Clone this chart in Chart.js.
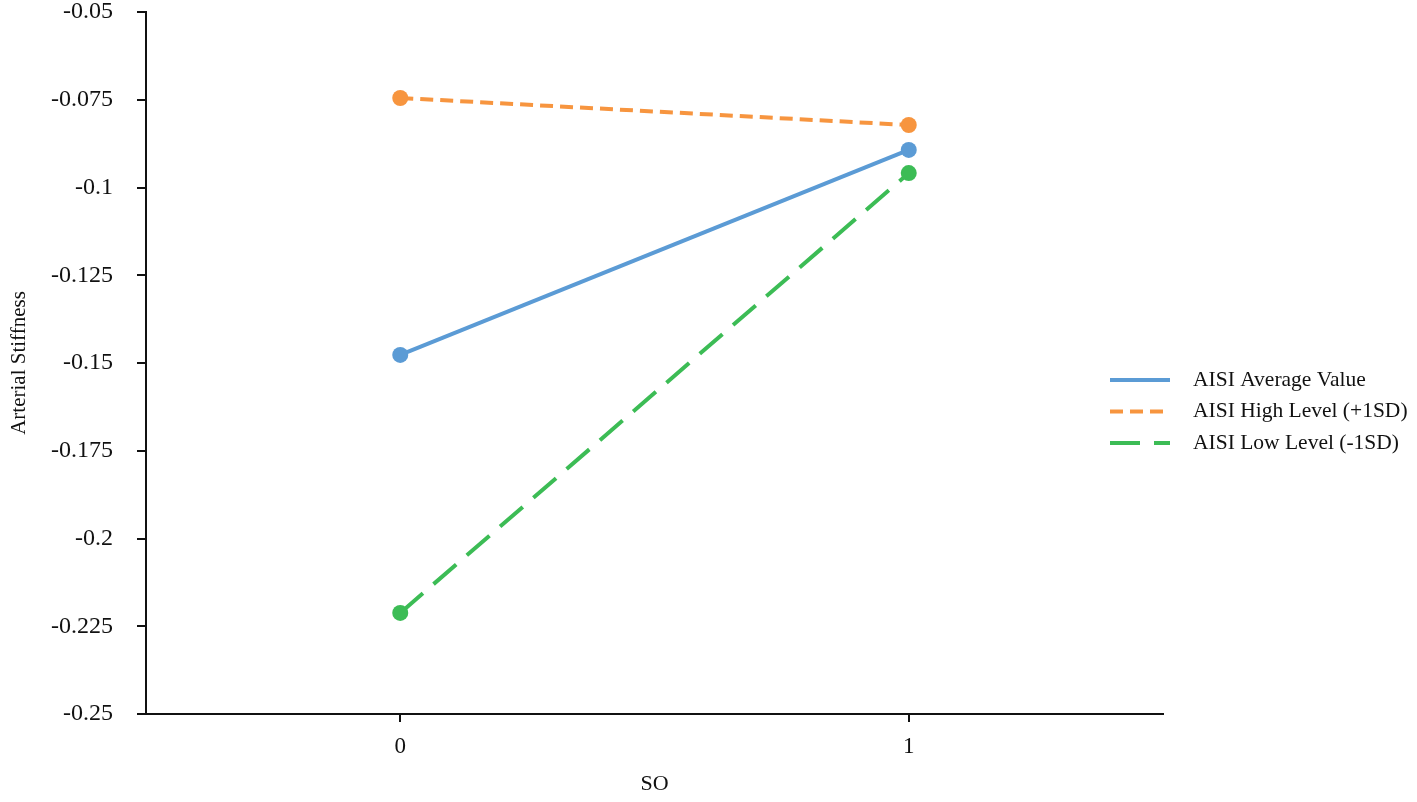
<!DOCTYPE html>
<html>
<head>
<meta charset="utf-8">
<script src="https://cdn.jsdelivr.net/npm/chart.js@4/dist/chart.umd.min.js"></script>
<style>
  html, body { margin: 0; padding: 0; background: #fff; }
  #wrap { width: 1417px; height: 802px; }
</style>
</head>
<body>
<div id="wrap"><canvas id="grafico" width="1417" height="802"></canvas></div>
<script>
// dados
const soGroups = [0, 1];
const averageValues = [-0.1477, -0.0893];
const highValues = [-0.0745, -0.0822];
const lowValues = [-0.2212, -0.0959];
const yTicks = [-0.25, -0.225, -0.2, -0.175, -0.15, -0.125, -0.1, -0.075, -0.05];
const seriesNames = ["AISI Average Value", "AISI High Level (+1SD)", "AISI Low Level (-1SD)"];

const fonte = "'Liberation Serif', 'Times New Roman', serif";
const toPoints = vals => soGroups.map((g, i) => ({ x: g, y: vals[i] }));

function makeSet(label, vals, color, dash) {
    return {
        label: label,
        data: toPoints(vals),
        borderColor: color,
        backgroundColor: color,
        borderWidth: 4,
        borderDash: dash,
        pointRadius: 8,
        pointHoverRadius: 8,
        pointBorderWidth: 0,
        pointBackgroundColor: color
    };
}

// legenda desenhada à direita
const legendaPlugin = {
    id: "legendaLateral",
    afterDraw(chart) {
        const ctx = chart.ctx;
        const area = chart.chartArea;
        const x0 = area.right - 53;
        const yStart = area.top + 368;
        ctx.save();
        chart.data.datasets.forEach((ds, i) => {
            const y = yStart + i * 31.5;
            ctx.beginPath();
            ctx.setLineDash(ds.borderDash || []);
            ctx.strokeStyle = ds.borderColor;
            ctx.lineWidth = 4;
            ctx.moveTo(x0, y);
            ctx.lineTo(x0 + 60, y);
            ctx.stroke();
            ctx.setLineDash([]);
            ctx.fillStyle = "#111";
            ctx.font = "21.5px " + fonte;
            ctx.textBaseline = "middle";
            ctx.textAlign = "left";
            ctx.fillText(ds.label, x0 + 83, y);
        });
        ctx.restore();
    }
};

const ctx = document.getElementById("grafico");
new Chart(ctx, {
    type: "line",
    data: {
        datasets: [
            makeSet(seriesNames[0], averageValues, "#5b9bd5", []),
            makeSet(seriesNames[1], highValues, "#f7953f", [13, 7]),
            makeSet(seriesNames[2], lowValues, "#3cbc55", [30, 14])
        ]
    },
    options: {
        responsive: false,
        animation: false,
        layout: { padding: { top: 12, right: 254, left: 0, bottom: 0 } },
        plugins: {
            legend: { display: false },
            tooltip: { enabled: false }
        },
        scales: {
            x: {
                type: "linear",
                min: -0.5,
                max: 1.5,
                afterBuildTicks: axis => { axis.ticks = soGroups.map(v => ({ value: v })); },
                afterFit: axis => { axis.height = 88; axis.paddingLeft = 0; axis.paddingRight = 0; },
                border: { color: "#111", width: 2 },
                grid: { drawOnChartArea: false, drawTicks: true, tickLength: 8, color: "#111", lineWidth: 2 },
                ticks: { color: "#111", font: { family: fonte, size: 23 }, padding: 11 },
                title: { display: true, text: "SO", color: "#111", font: { family: fonte, size: 22 }, padding: { top: 4, bottom: 5 } }
            },
            y: {
                min: -0.25,
                max: -0.05,
                afterBuildTicks: axis => { axis.ticks = yTicks.map(v => ({ value: v })); },
                afterFit: axis => { axis.width = 146; axis.paddingTop = 0; axis.paddingBottom = 0; },
                border: { color: "#111", width: 2 },
                grid: { drawOnChartArea: false, drawTicks: true, tickLength: 9, color: "#111", lineWidth: 2 },
                ticks: {
                    color: "#111",
                    font: { family: fonte, size: 24 },
                    padding: 24,
                    callback: v => String(Number(v.toFixed(3)))
                },
                title: { display: true, text: "Arterial Stiffness", color: "#111", font: { family: fonte, size: 21 }, padding: { top: 7, bottom: 4 } }
            }
        }
    },
    plugins: [legendaPlugin]
});
</script>
</body>
</html>
